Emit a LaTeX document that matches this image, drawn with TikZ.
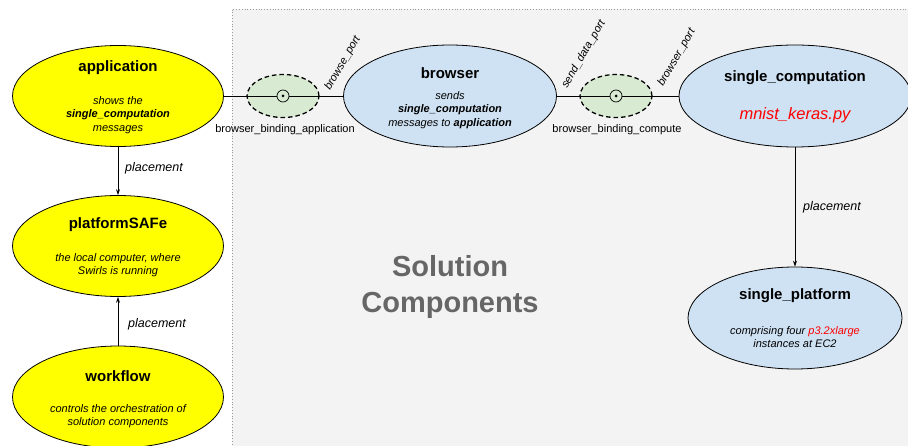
\documentclass[tikz,border=0pt]{standalone}
\usepackage{fontspec}
\setmainfont{Liberation Sans}
\usetikzlibrary{shapes.geometric,arrows.meta}
\definecolor{yel}{HTML}{FFFF00}
\definecolor{lblue}{HTML}{CFE2F3}
\definecolor{lgreen}{HTML}{D9EAD3}
\definecolor{bggray}{HTML}{F3F3F3}
\definecolor{txtgray}{HTML}{666666}
\definecolor{bordergray}{HTML}{9A9A9A}
\begin{document}
\begin{tikzpicture}[x=1pt,y=-1pt,
  comp/.style={ellipse, draw=black, line width=0.8pt, inner sep=0pt, minimum width=211, minimum height=101},
  yelcomp/.style={comp, fill=yel},
  bluecomp/.style={comp, fill=lblue},
  binding/.style={ellipse, draw=black, fill=lgreen, line width=1.3pt, dash pattern=on 4.5pt off 3pt, inner sep=0pt, minimum width=72, minimum height=43},
  pin/.style={circle, draw=black, line width=0.7pt, fill=lgreen, inner sep=0pt, minimum size=12},
  pindot/.style={circle, fill=black, inner sep=0pt, minimum size=3},
  ttl/.style={font=\bfseries\fontsize{15}{18}\selectfont, inner sep=0pt},
  body/.style={font=\itshape\fontsize{11}{13.6}\selectfont, align=center, inner sep=0pt},
  lbl/.style={font=\fontsize{11}{13}\selectfont, inner sep=0pt},
  port/.style={font=\itshape\fontsize{11}{13}\selectfont, inner sep=0pt, anchor=base west, rotate=60},
  plc/.style={font=\itshape\fontsize{12.5}{15}\selectfont, inner sep=0pt, anchor=west},
  conn/.style={line width=0.7pt},
  arr/.style={line width=0.7pt, -{Stealth[length=6pt,width=4pt]}}
]
\useasboundingbox (0,0) rectangle (908,446);
\clip (0,0) rectangle (908,446);
% background region
\fill[bggray] (232,9) rectangle (912,450);
\draw[bordergray, dotted, line width=0.8pt] (232,450) -- (232,9) -- (912,9);

\node[font=\bfseries\fontsize{29}{36}\selectfont, text=txtgray, align=center] (solution) at (450,287) {Solution\\Components};

% components
\node[yelcomp] (app) at (118,96) {};
\node[yelcomp] (plat) at (118,246) {};
\node[yelcomp, minimum height=102] (wf) at (118,397) {};
\node[bluecomp, minimum width=213, minimum height=102] (brw) at (450,96) {};
\node[bluecomp, minimum width=232, minimum height=102] (sc) at (795,96) {};
\node[bluecomp, minimum width=214, minimum height=102] (sp) at (795,318) {};

% bindings
\node[binding] (b1) at (283,96) {};
\node[binding] (b2) at (616,96) {};
\node[pin] (p1) at (283,96) {};
\node[pin] (p2) at (616,96) {};
\node[pindot] (d1) at (p1.center) {};
\node[pindot] (d2) at (p2.center) {};

\draw[conn] (app.east) -- (p1.west);
\draw[conn] (p1.east) -- (brw.west);
\draw[conn] (brw.east) -- (p2.west);
\draw[conn] (p2.east) -- (sc.west);

\node[lbl] (bba) at (285,130) {browser\_binding\_application};
\node[lbl] (bbc) at (617,130) {browser\_binding\_compute};

\node[port] (bp1) at (330,91) {browse\_port};
\node[port] (sdp) at (567,89) {send\_data\_port};
\node[port] (bp2) at (663,87) {browser\_port};

% texts
\node[ttl] (appt) at (118,68) {application};
\node[body] (appb) at (118,115) {shows the\\\textbf{single\_computation}\\messages};
\node[ttl] (platt) at (118,225) {platformSAFe};
\node[body] (platb) at (118,265) {the local computer, where\\Swirls is running};
\node[ttl] (wft) at (118,376) {workflow};
\node[body] (wfb) at (118,416) {controls the orchestration of\\solution components};
\node[ttl] (brwt) at (450,73) {browser};
\node[body] (brwb) at (450,110) {sends\\\textbf{single\_computation}\\messages to \textbf{application}};
\node[ttl] (sct) at (795,78) {single\_computation};
\node[font=\itshape\fontsize{16.5}{20}\selectfont, text=red, inner sep=0pt] (scb) at (795,115) {mnist\_keras.py};
\node[ttl] (spt) at (795,296) {single\_platform};
\node[body] (spb) at (795,337) {comprising four \textcolor{red}{p3.2xlarge}\\instances at EC2};

% placement arrows
\draw[arr] (app.south) -- (plat.north);
\draw[arr] (wf.north) -- (plat.south);
\draw[arr] (sc.south) -- (sp.north);
\node[plc] (pl1) at (125,168) {placement};
\node[plc] (pl2) at (128,324) {placement};
\node[plc] (pl3) at (803,207) {placement};
\end{tikzpicture}
\end{document}
